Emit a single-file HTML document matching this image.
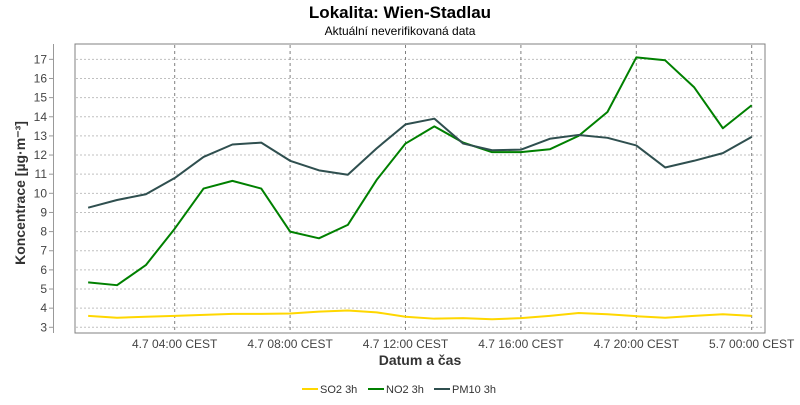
<!DOCTYPE html>
<html><head><meta charset="utf-8"><style>
body{margin:0;background:#fff;}
svg text{font-family:"Liberation Sans",sans-serif;}
</style></head><body>
<svg id="chart" width="800" height="400" xmlns="http://www.w3.org/2000/svg">
<text x="400" y="18" text-anchor="middle" font-size="17" font-weight="bold" fill="#000">Lokalita: Wien-Stadlau</text>
<text x="400" y="35" text-anchor="middle" font-size="12" fill="#000">Aktuální neverifikovaná data</text>
<rect x="75" y="44" width="690" height="289" fill="#fff" stroke="#808080" stroke-width="1"/>
<line x1="53.5" y1="44" x2="53.5" y2="333" stroke="#999"/>
<g id="grid"></g>
<g id="yticks"></g>
<g id="xticks"></g>
<g id="series"></g>
<text transform="translate(25,193) rotate(-90)" text-anchor="middle" font-size="14" font-weight="bold" fill="#333">Koncentrace [µg·m⁻³]</text>
<text x="420" y="365" text-anchor="middle" font-size="14" font-weight="bold" fill="#333">Datum a čas</text>
<g id="legend"></g>
</svg>
<script>
const hours=[1,2,3,4,5,6,7,8,9,10,11,12,13,14,15,16,17,18,19,20,21,22,23,24];
const so2=[3.6,3.5,3.55,3.6,3.65,3.7,3.7,3.72,3.82,3.88,3.78,3.55,3.45,3.48,3.42,3.48,3.6,3.75,3.68,3.58,3.5,3.6,3.68,3.6];
const no2=[5.35,5.2,6.25,8.15,10.25,10.65,10.25,8.0,7.65,8.35,10.7,12.6,13.5,12.65,12.15,12.15,12.3,13.0,14.25,17.1,16.95,15.55,13.4,14.6];
const pm10=[9.25,9.65,9.95,10.8,11.9,12.55,12.65,11.7,11.2,10.97,12.35,13.6,13.9,12.6,12.25,12.28,12.85,13.05,12.9,12.5,11.35,11.7,12.1,12.95];
const yTicks=[3,4,5,6,7,8,9,10,11,12,13,14,15,16,17];
const xTickHours=[4,8,12,16,20,24];
const xTickLabels=["4.7 04:00 CEST","4.7 08:00 CEST","4.7 12:00 CEST","4.7 16:00 CEST","4.7 20:00 CEST","5.7 00:00 CEST"];
const seriesNames=["SO2 3h","NO2 3h","PM10 3h"];
const seriesColors=["#ffd700","#008000","#2f4f4f"];
const NS="http://www.w3.org/2000/svg";
function xPix(h){return 59.3+h*28.85;}
function yPix(v){return 327.3-(v-3)*19.14;}
function mk(tag,attrs,parent){const e=document.createElementNS(NS,tag);for(const k in attrs)e.setAttribute(k,attrs[k]);parent.appendChild(e);return e;}
const grid=document.getElementById('grid'),yt=document.getElementById('yticks'),xt=document.getElementById('xticks'),ser=document.getElementById('series'),leg=document.getElementById('legend');
yTicks.forEach(v=>{const y=yPix(v);
 const g=mk('line',{x1:76,x2:764,y1:y,y2:y,stroke:'#c0c0c0','stroke-dasharray':'2,2'},grid);
 
 
 const tk=mk('line',{x1:49,x2:53,y1:y,y2:y,stroke:'#999'},yt);
 
 
 const t=mk('text',{x:47,y:y+4,'text-anchor':'end','font-size':12,fill:'#444'},yt);t.textContent=v;
 
 
});
xTickHours.forEach((h,i)=>{const x=xPix(h);
 const g=mk('line',{x1:x,x2:x,y1:45,y2:332,stroke:'#808080','stroke-dasharray':'3,3'},grid);
 
 
 const t=mk('text',{x:x,y:348,'text-anchor':'middle','font-size':12,fill:'#444'},xt);t.textContent=xTickLabels[i];
 
 
});
[so2,no2,pm10].forEach((arr,si)=>{
 const p=mk('polyline',{points:arr.map((v,i)=>xPix(hours[i])+','+yPix(v)).join(' '),fill:'none',stroke:seriesColors[si],'stroke-width':2,'stroke-linejoin':'round'},ser);
 
 
});
const lx=[302,368,434];
seriesNames.forEach((n,i)=>{
 const g=mk('g',{},leg);
 
 
 mk('line',{x1:lx[i],x2:lx[i]+16,y1:389,y2:389,stroke:seriesColors[i],'stroke-width':2},g);
 const t=mk('text',{x:lx[i]+18,y:393,'font-size':11,fill:'#333'},g);t.textContent=n;
});
</script>
</body></html>
